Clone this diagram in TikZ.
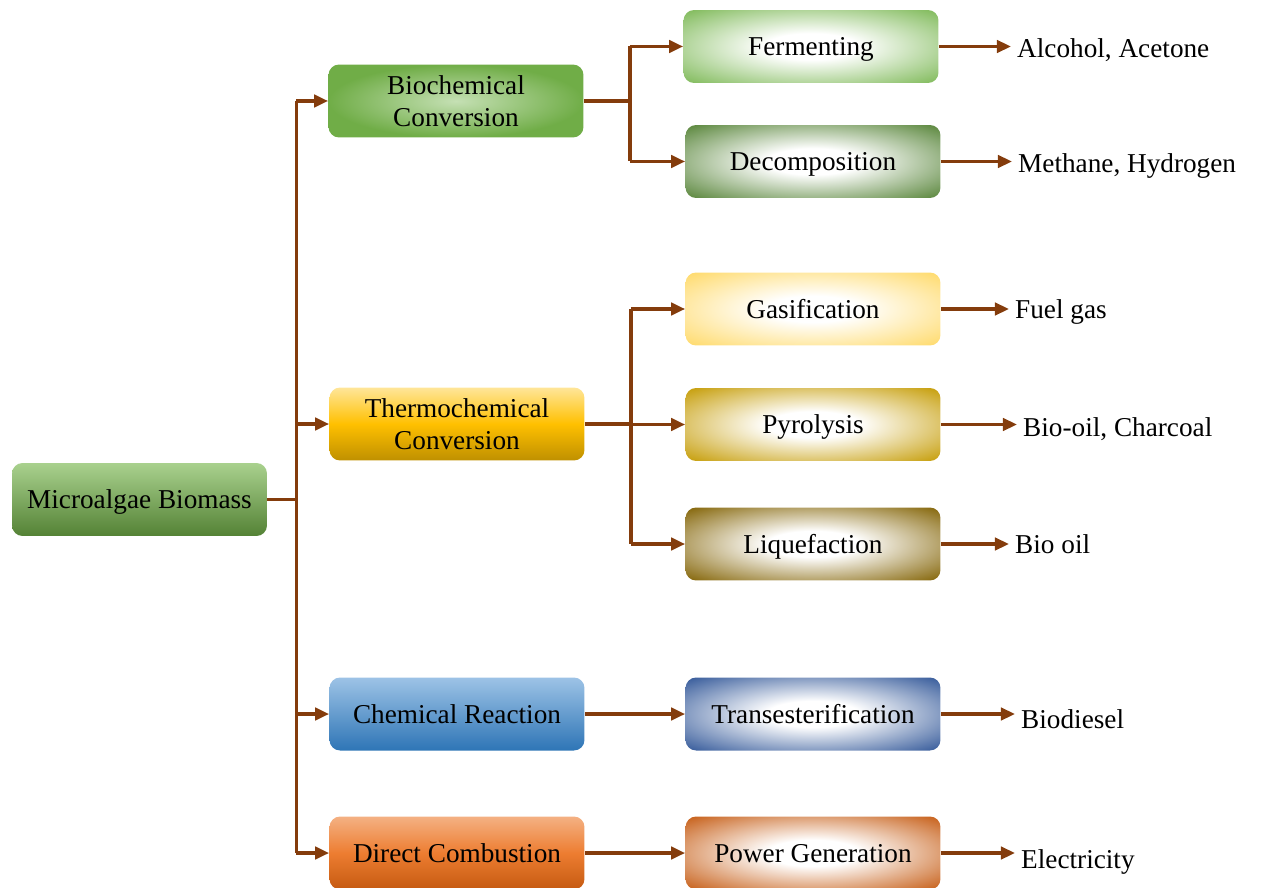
\documentclass[tikz,border=0pt]{standalone}
\usepackage{fontspec}
\setmainfont{Liberation Serif}
\usetikzlibrary{arrows.meta}

\definecolor{linkbrown}{HTML}{843C0C}
\colorlet{glowcol}{gray}
\pgfdeclareradialshading[glowcol]{glow}{\pgfpoint{0bp}{0bp}}{color(0bp)=(white); color(9bp)=(white); color(36bp)=(glowcol); color(50bp)=(glowcol)}

\tikzset{
    box/.style={rounded corners=6pt, minimum width=5.1cm, minimum height=1.46cm,
        align=center, text depth=0pt, font=\fontsize{15.5}{18.7}\selectfont},
    glowbox/.style={box, shading=glow, /utils/exec={\colorlet{glowcol}{#1}}},
    result/.style={anchor=west, text depth=0pt, font=\fontsize{15.5}{18.7}\selectfont},
    link/.style={draw=linkbrown, line width=2pt},
    arr/.style={link, -{Triangle[length=8pt, width=7pt]}}
}

\begin{document}
\begin{tikzpicture}[x=0.02cm, y=-0.02cm]
    \useasboundingbox (0,0) rectangle (1270,888);
    \clip (0,0) rectangle (1270,888);

    % source and conversion routes
    \node[box, top color={rgb,255:red,169;green,209;blue,142}, bottom color={rgb,255:red,84;green,130;blue,53}]
        (mb) at (139.5,499.5) {Microalgae Biomass};
    \node[box, inner color={rgb,255:red,197;green,224;blue,180}, outer color={rgb,255:red,112;green,173;blue,71}]
        (bio) at (456,101) {Biochemical\\Conversion};
    \node[box, top color={rgb,255:red,255;green,230;blue,153}, bottom color={rgb,255:red,191;green,144;blue,0},
        middle color={rgb,255:red,255;green,192;blue,0}]
        (thermo) at (457,424) {Thermochemical\\Conversion};
    \node[box, top color={rgb,255:red,157;green,195;blue,230}, bottom color={rgb,255:red,46;green,117;blue,182}]
        (chem) at (457,714) {Chemical Reaction};
    \node[box, top color={rgb,255:red,244;green,177;blue,131}, bottom color={rgb,255:red,197;green,90;blue,17},
        middle color={rgb,255:red,237;green,125;blue,49}]
        (dc) at (457,853) {Direct Combustion};

    % processes
    \node[glowbox={rgb,255:red,124;green,184;blue,85}] (fer) at (811,46.5) {Fermenting};
    \node[glowbox={rgb,255:red,84;green,130;blue,53}] (dec) at (813,161.5) {Decomposition};
    \node[glowbox={rgb,255:red,255;green,217;blue,102}] (gas) at (813,309) {Gasification};
    \node[glowbox={rgb,255:red,196;green,154;blue,0}] (pyr) at (813,424.5) {Pyrolysis};
    \node[glowbox={rgb,255:red,128;green,96;blue,0}] (liq) at (813,544) {Liquefaction};
    \node[glowbox={rgb,255:red,47;green,85;blue,151}] (tra) at (813,714) {Transesterification};
    \node[glowbox={rgb,255:red,197;green,90;blue,17}] (pg) at (813,853) {Power Generation};

    % products
    \node[result] (alc) at (1011,48) {Alcohol, Acetone};
    \node[result] (met) at (1012,163) {Methane, Hydrogen};
    \node[result] (fuel) at (1009,309) {Fuel gas};
    \node[result] (char) at (1017,427) {Bio-oil, Charcoal};
    \node[result] (oil) at (1009,544) {Bio oil};
    \node[result] (dies) at (1015,719) {Biodiesel};
    \node[result] (elec) at (1015,859) {Electricity};

    % trunk
    \draw[link] (mb.east) -- ++(29,0) coordinate (tr);
    \draw[link] (tr |- bio.west) -- (tr |- dc.west);
    \foreach \n in {bio,thermo,chem,dc}
        \draw[arr] (tr |- \n.west) -- (\n.west);

    % forks
    \draw[link] (bio.east) -- ++(46,0) coordinate (fb);
    \draw[link] (fb |- fer.west) -- (fb |- dec.west);
    \foreach \n in {fer,dec}
        \draw[arr] (fb |- \n.west) -- (\n.west);

    \draw[link] (thermo.east) -- ++(46,0) coordinate (ft);
    \draw[link] (ft |- gas.west) -- (ft |- liq.west);
    \foreach \n in {gas,pyr,liq}
        \draw[arr] (ft |- \n.west) -- (\n.west);

    \draw[arr] (chem) -- (tra);
    \draw[arr] (dc) -- (pg);

    \foreach \a/\b in {fer/alc,dec/met,gas/fuel,pyr/char,liq/oil,tra/dies,pg/elec}
        \draw[arr] (\a.east) -- (\a.east -| \b.west);
\end{tikzpicture}
\end{document}
